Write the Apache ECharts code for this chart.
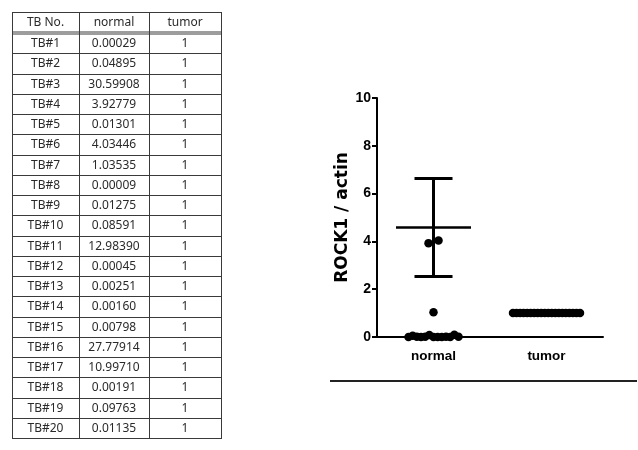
<!DOCTYPE html>
<html>
<head>
<meta charset="utf-8">
<script src="https://cdn.jsdelivr.net/npm/echarts@6/dist/echarts.min.js"></script>
<style>html,body{margin:0;padding:0;background:#fff;}#c{width:638px;height:450px;}</style>
</head>
<body>
<div id="c"></div>
<script>
// ---- data ----
const tableHeaders = ['TB No.', 'normal', 'tumor'];
const tbNo = ['TB#1','TB#2','TB#3','TB#4','TB#5','TB#6','TB#7','TB#8','TB#9','TB#10',
              'TB#11','TB#12','TB#13','TB#14','TB#15','TB#16','TB#17','TB#18','TB#19','TB#20'];
const normalValues = [0.00029, 0.04895, 30.59908, 3.92779, 0.01301, 4.03446, 1.03535, 0.00009, 0.01275, 0.08591,
                      12.98390, 0.00045, 0.00251, 0.00160, 0.00798, 27.77914, 10.99710, 0.00191, 0.09763, 0.01135];
const tumorValues = [1, 1, 1, 1, 1, 1, 1, 1, 1, 1, 1, 1, 1, 1, 1, 1, 1, 1, 1, 1];
const groups = ['normal', 'tumor'];
const groupMean = [4.58, 1.0];
const groupSem = [2.05, 0];
const yMin = 0, yMax = 10, yInterval = 2;
const yTitle = 'ROCK1 / actin';

// ---- layout ----
const G = {left: 377, top: 98, width: 226, height: 239};
const dotSize = 8.5;
const swarmWidth = [50, 67];
const xUnitPerPx = 2 / G.width;
const yUnitPerPx = (yMax - yMin) / G.height;

function swarm(values, gi) {
  const idx = values.map((v, i) => i).sort((a, b) => values[a] - values[b]);
  const grps = [];
  let cur = null;
  idx.forEach(i => {
    if (cur && values[i] - values[cur[0]] < dotSize * yUnitPerPx) cur.push(i);
    else { cur = [i]; grps.push(cur); }
  });
  const out = [];
  grps.forEach(g => {
    g.sort((a, b) => a - b);
    const n = g.length;
    const step = n > 1 ? Math.min(10, swarmWidth[gi] / (n - 1)) : 0;
    g.forEach((i, k) => {
      const off = (k - (n - 1) / 2) * step;
      out.push([gi + 0.5 + off * xUnitPerPx, values[i]]);
    });
  });
  return out;
}

// ---- table graphic ----
const colX = [12, 79, 149, 221];
const headTop = 12, headBottom = 33, rowH = 20.25;
const tableBottom = headBottom + rowH * tbNo.length;
const lineColor = '#3a3a3a';
const tableEls = [];
function hline(y, w) {
  tableEls.push({type: 'line', shape: {x1: colX[0], y1: y, x2: colX[3] + 1, y2: y},
    style: {stroke: lineColor, lineWidth: w || 1}});
}
colX.forEach(x => tableEls.push({type: 'line', shape: {x1: x + 0.5, y1: headTop, x2: x + 0.5, y2: tableBottom},
  style: {stroke: lineColor, lineWidth: 1}}));
hline(headTop + 0.5);
hline(headBottom - 1);
hline(headBottom + 1);
for (let r = 1; r <= tbNo.length; r++) hline(Math.round(headBottom + rowH * r) + 0.5);
function cellText(t, col, cy) {
  tableEls.push({type: 'text', style: {text: t, x: (colX[col] + colX[col + 1]) / 2, y: cy,
    align: 'center', verticalAlign: 'middle', fontSize: 12, fontFamily: '"Noto Sans", "Noto Sans CJK KR", sans-serif',
    fill: '#2a2a2a'}});
}
tableHeaders.forEach((h, c) => cellText(h, c, (headTop + headBottom) / 2 + 0.5));
tbNo.forEach((t, r) => {
  const cy = headBottom + rowH * (r + 0.5) + 0.5;
  cellText(t, 0, cy);
  cellText(normalValues[r].toFixed(5), 1, cy);
  cellText(String(tumorValues[r]), 2, cy);
});
tableEls.push({type: 'line', shape: {x1: 330, y1: 381, x2: 637, y2: 381}, style: {stroke: '#222', lineWidth: 2}});

const labelFont = '"Liberation Sans", Arial, sans-serif';

const chart = echarts.init(document.getElementById('c'), null, {renderer: 'canvas'});
chart.setOption({
  animation: false,
  backgroundColor: '#fff',
  grid: {left: G.left, top: G.top, width: G.width, height: G.height, containLabel: false},
  xAxis: [{
    type: 'category', data: groups, boundaryGap: true,
    axisLine: {lineStyle: {color: '#000', width: 2}},
    axisTick: {alignWithLabel: true, length: 4, lineStyle: {color: '#000', width: 2}},
    axisLabel: {margin: 12, color: '#000', fontSize: 13.5, fontWeight: 'bold', fontFamily: labelFont},
    splitLine: {show: false}
  }, {
    type: 'value', min: 0, max: 2, show: false
  }],
  yAxis: {
    type: 'value', min: yMin, max: yMax, interval: yInterval,
    name: yTitle, nameLocation: 'middle', nameGap: 15,
    nameTextStyle: {color: '#000', fontSize: 17, fontWeight: 'bold', fontFamily: '"DejaVu Sans", sans-serif'},
    axisLine: {show: true, lineStyle: {color: '#000', width: 2}},
    axisTick: {show: true, length: 5, lineStyle: {color: '#000', width: 2}},
    axisLabel: {margin: 6, color: '#000', fontSize: 14, fontWeight: 'bold', fontFamily: labelFont},
    splitLine: {show: false}
  },
  graphic: tableEls,
  series: [{
    type: 'custom', xAxisIndex: 1, z: 1,
    data: groups.map((g, i) => [i + 0.5, groupMean[i], groupSem[i]]),
    renderItem: function (params, api) {
      const x = api.value(0), m = api.value(1), s = api.value(2);
      const c = api.coord([x, m]);
      const t = api.coord([x, m + s]);
      const b = api.coord([x, m - s]);
      const st = {stroke: '#000', lineWidth: 3};
      const children = [{type: 'line', shape: {x1: c[0] - 37.5, y1: c[1], x2: c[0] + 37.5, y2: c[1]}, style: {stroke: '#000', lineWidth: 2.5}}];
      if (s > 0) {
        children.push({type: 'line', shape: {x1: c[0], y1: t[1], x2: c[0], y2: b[1]}, style: st});
        children.push({type: 'line', shape: {x1: c[0] - 19, y1: t[1], x2: c[0] + 19, y2: t[1]}, style: st});
        children.push({type: 'line', shape: {x1: c[0] - 19, y1: b[1], x2: c[0] + 19, y2: b[1]}, style: st});
      }
      return {type: 'group', children: children};
    }
  }, {
    type: 'scatter', name: 'normal', xAxisIndex: 1, z: 2, clip: true,
    symbol: 'circle', symbolSize: dotSize, itemStyle: {color: '#000', opacity: 1},
    data: swarm(normalValues, 0)
  }, {
    type: 'scatter', name: 'tumor', xAxisIndex: 1, z: 2, clip: true,
    symbol: 'circle', symbolSize: dotSize, itemStyle: {color: '#000', opacity: 1},
    data: swarm(tumorValues, 1)
  }]
});
</script>
</body>
</html>
